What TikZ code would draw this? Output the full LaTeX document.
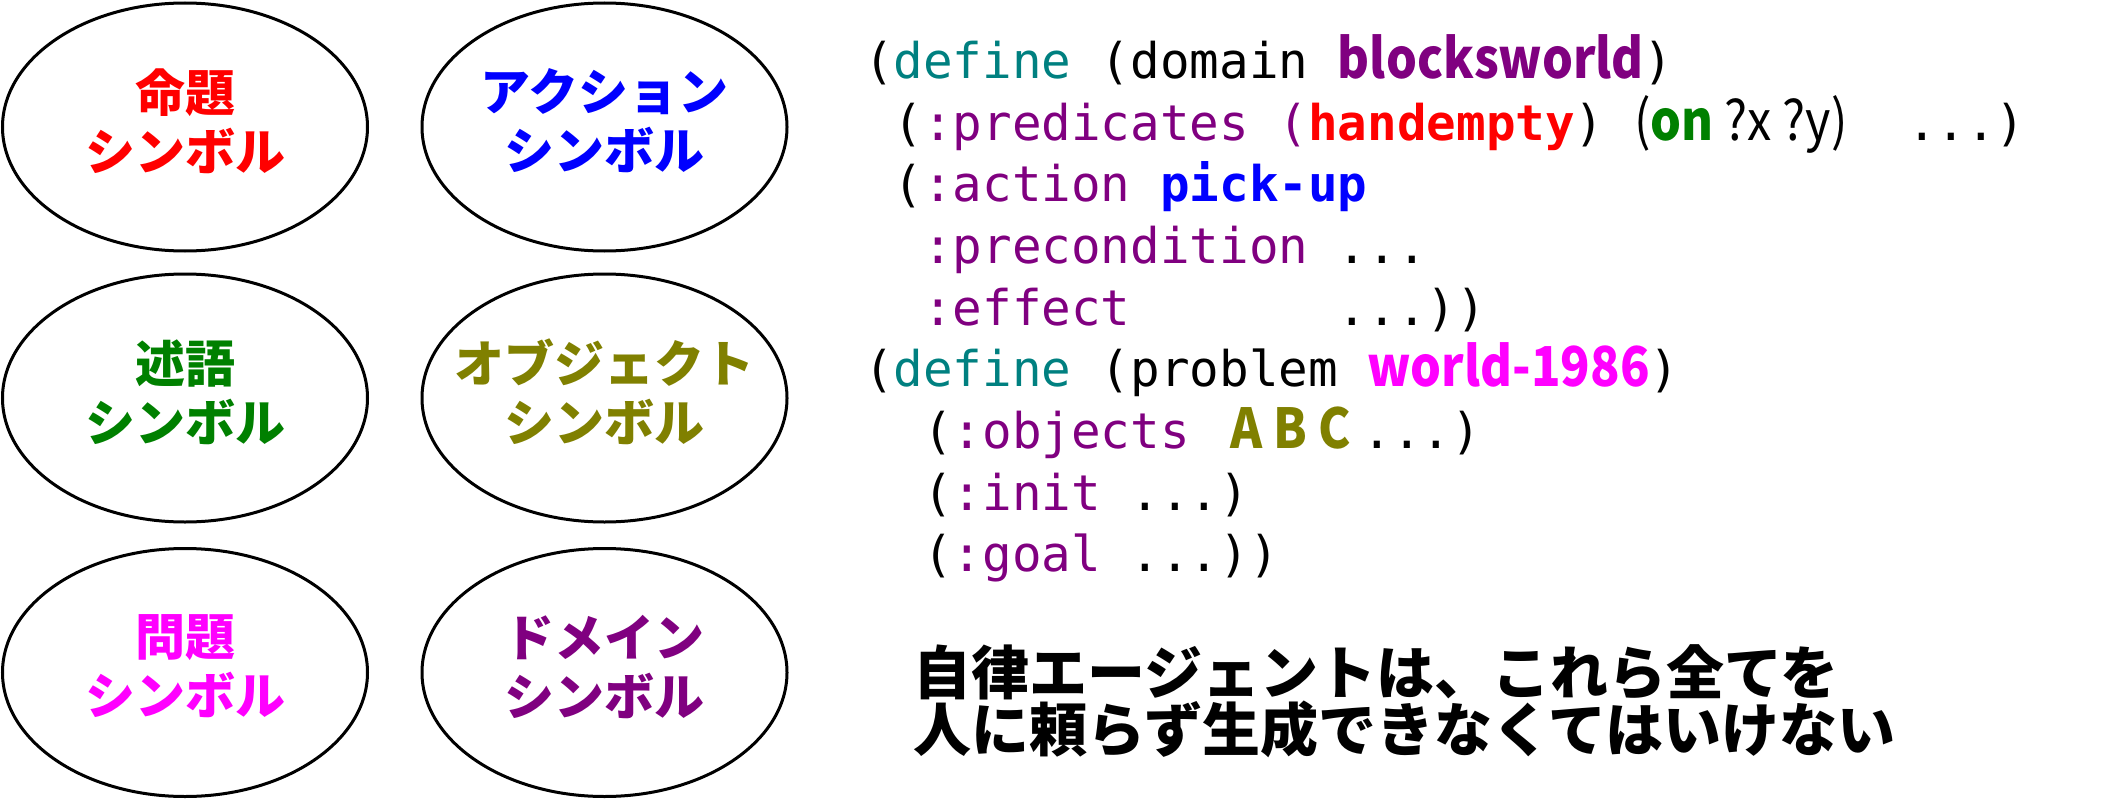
\documentclass[tikz,border=0pt]{standalone}
\usepackage{fontspec}
\usetikzlibrary{shapes.geometric}
\newfontfamily\mono{DejaVu Sans Mono}
\newfontfamily\jp{Noto Sans CJK JP}
\newfontfamily\jpn{Noto Sans CJK JP}[FakeStretch=0.885]
\definecolor{kwpurple}{RGB}{128,0,128}
\definecolor{kwgreen}{RGB}{0,128,0}
\definecolor{kwteal}{RGB}{0,128,128}
\definecolor{kwolive}{RGB}{128,128,0}
\definecolor{kwmagenta}{RGB}{255,0,255}
\definecolor{kwred}{RGB}{255,0,0}
\definecolor{kwblue}{RGB}{0,0,255}
\newcommand\M{\mono\fontsize{49.2}{60}\selectfont}
\newcommand\N{\jpn\fontsize{55}{60}\selectfont}
\newcommand\NB{\jpn\bfseries\fontsize{55}{60}\selectfont}
\frenchspacing
\tikzset{
  sym/.style={ellipse, draw=black, line width=3pt, minimum width=365pt, minimum height=248pt, inner sep=0pt},
  symlabel/.style={align=center, inner sep=0pt, font=\jp\bfseries\fontsize{50}{59}\selectfont},
  code/.style={anchor=base west, inner sep=0pt, outer sep=0pt, font=\M},
  note/.style={anchor=base west, inner sep=0pt, font=\jp\bfseries\fontsize{58}{57}\selectfont}
}
\begin{document}
\begin{tikzpicture}[x=1pt,y=-1pt]
\path[use as bounding box] (0,0) rectangle (2102,800);
% ellipses
\node[sym] (e1) at (185,127) {};
\node[sym] (e2) at (604.5,127) {};
\node[sym] (e3) at (185,398) {};
\node[sym] (e4) at (604.5,398) {};
\node[sym] (e5) at (185,672.5) {};
\node[sym] (e6) at (604.5,672.5) {};
\node[symlabel, text=kwred] (s1) at ([yshift=6pt]e1.center) {命題\\シンボル};
\node[symlabel, text=kwblue] (s2) at ([yshift=6pt]e2.center) {アクション\\シンボル};
\node[symlabel, text=kwgreen] (s3) at ([yshift=6pt]e3.center) {述語\\シンボル};
\node[symlabel, text=kwolive] (s4) at ([yshift=6pt]e4.center) {オブジェクト\\シンボル};
\node[symlabel, text=kwmagenta] (s5) at ([yshift=6pt]e5.center) {問題\\シンボル};
\node[symlabel, text=kwpurple] (s6) at ([yshift=6pt]e6.center) {ドメイン\\シンボル};
% code
\node[code] (l1) at (864,78.5) {(\textcolor{kwteal}{define}\ (domain\ {\NB\color{kwpurple}blocksworld})};
\node[code] (l2) at (864,140) {\ (\textcolor{kwpurple}{:predicates\ (}{\bfseries\color{kwred}handempty})};
\node[code, font=\N] (l2b) at ([xshift=29.6pt]l2.base east) {(\textcolor{kwgreen}{\NB on}\ ?x\ ?y)};
\node[code] (l2c) at (1907,140) {...)};
\node[code] (l3) at (864,201.7) {\ (\textcolor{kwpurple}{:action}\ {\bfseries\color{kwblue}pick-up}};
\node[code] (l4) at (864,263.4) {\ \ \textcolor{kwpurple}{:precondition}\ ...};
\node[code] (l5) at (864,325) {\ \ \textcolor{kwpurple}{:effect}\ \ \ \ \ \ \ ...))};
\node[code] (l6) at (864,386.7) {(\textcolor{kwteal}{define}\ (problem\ {\NB\color{kwmagenta}world-1986})};
\node[code] (l7) at (864,448.4) {\ \ (\textcolor{kwpurple}{:objects}\ {\NB\color{kwolive}\ A\ B\ C\ }...)};
\node[code] (l8) at (864,510) {\ \ (\textcolor{kwpurple}{:init}\ ...)};
\node[code] (l9) at (864,571.7) {\ \ (\textcolor{kwpurple}{:goal}\ ...))};
% note
\node[note] (t1) at (913,694) {自律エージェントは、これら全てを};
\node[note] (t2) at (913,751) {人に頼らず生成できなくてはいけない};
\end{tikzpicture}
\end{document}
